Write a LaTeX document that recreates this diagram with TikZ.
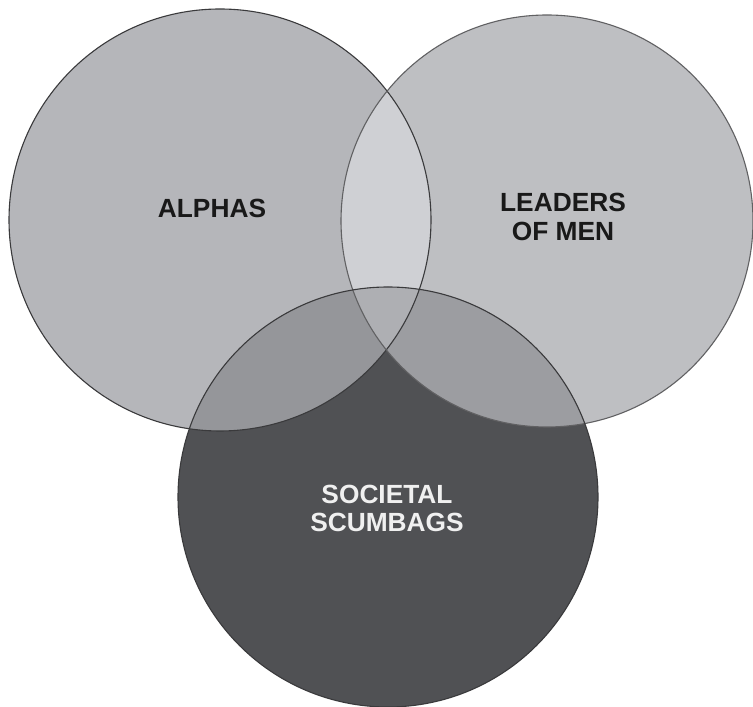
\documentclass[tikz,border=0pt]{standalone}
\usepackage{fontspec}
\setmainfont{Liberation Sans}
\definecolor{cA}{HTML}{B5B6BA}
\definecolor{cB}{HTML}{BEBFC2}
\definecolor{cC}{HTML}{505154}
\definecolor{cAB}{HTML}{CFD0D4}
\definecolor{cAC}{HTML}{95969A}
\definecolor{cBC}{HTML}{9C9DA1}
\definecolor{cABC}{HTML}{AEAFB3}
\definecolor{edge}{HTML}{3A3A3C}
\tikzset{
  outline/.style={draw=edge, line width=1.1pt},
  lbl/.style={inner sep=0pt, align=center, font=\fontsize{26.3}{28.8}\selectfont\bfseries}
}
\begin{document}
\begin{tikzpicture}[x=1pt,y=1pt]
\useasboundingbox (0,0) rectangle (753,707);
\fill[white] (0,0) rectangle (753,707);
\coordinate (ca) at (220,487);
\coordinate (cb) at (547,486);
\coordinate (cc) at (388,210);
\def\ra{211}
\def\rb{206}
\def\rc{210}
% base fills
\fill[cA] (ca) circle (\ra);
\fill[cB] (cb) circle (\rb);
\begin{scope}
  \clip (ca) circle (\ra);
  \fill[cAB] (cb) circle (\rb);
\end{scope}
\fill[cC] (cc) circle (\rc);
\begin{scope}
  \clip (cc) circle (\rc);
  \fill[cAC] (ca) circle (\ra);
  \fill[cBC] (cb) circle (\rb);
  \clip (ca) circle (\ra);
  \fill[cABC] (cb) circle (\rb);
\end{scope}
% outlines
\draw[outline] (ca) circle (\ra);
\draw[outline, draw=edge!80] (cb) circle (\rb);
\draw[outline] (cc) circle (\rc);
% labels
\node[lbl, text=black!90] (alphas) at (212,498.5) {ALPHAS};
\node[lbl, text=black!90] (leaders) at (563,490.2) {LEADERS\\OF MEN};
\node[lbl, text=white!94!black] (scum) at (387,198.6) {SOCIETAL\\SCUMBAGS};
\end{tikzpicture}
\end{document}
